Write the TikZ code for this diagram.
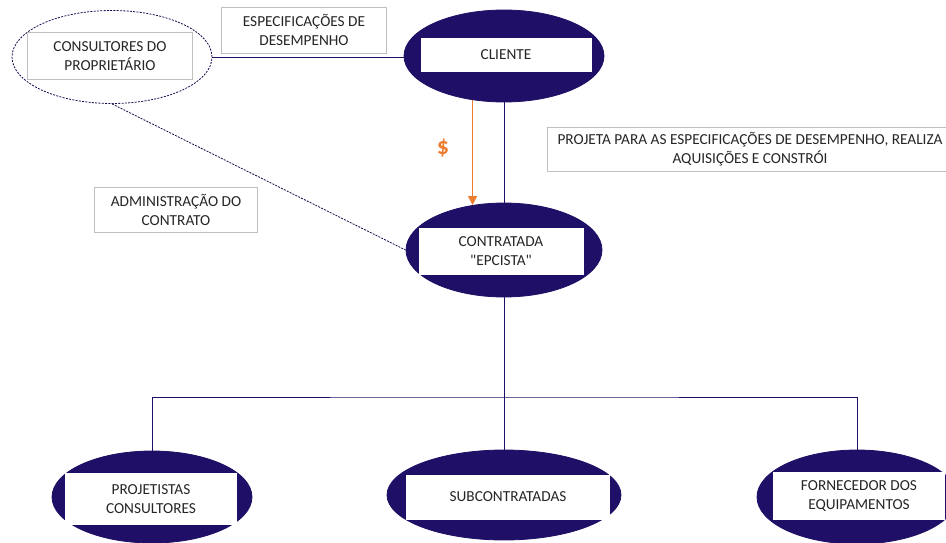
\documentclass[tikz,border=0pt]{standalone}
\usepackage{fontspec}
\setmainfont{Carlito}[Ligatures=TeXOff]
\usetikzlibrary{shapes.geometric,backgrounds,arrows.meta}
\definecolor{inknavy}{RGB}{31,15,102}
\definecolor{payorange}{RGB}{237,125,49}
\definecolor{boxgray}{RGB}{191,191,191}
\definecolor{inktext}{RGB}{38,38,38}
\begin{document}
\begin{tikzpicture}[x=1pt,y=-1pt,
  party/.style={ellipse, fill=inknavy, draw=inknavy, line width=0.8pt, inner sep=0pt},
  tag/.style={fill=white, draw=none, align=center, text=inktext,
    font=\fontsize{15.3}{18.5}\selectfont, inner sep=0pt},
  note/.style={tag, draw=boxgray, line width=0.7pt},
  link/.style={draw=inknavy, line width=0.9pt},
  advice/.style={draw=inknavy!70!black, line width=0.8pt, dash pattern=on 2pt off 1.2pt},
  pay/.style={draw=payorange, line width=1pt, -{Triangle[width=9pt,length=9pt]}, payorange}
]
\clip (0,0) rectangle (946,543);

% owner's consultants (dashed)
\node[ellipse, draw=inknavy!80!black, line width=0.8pt, dash pattern=on 2pt off 1.3pt,
  minimum width=200pt, minimum height=93pt, inner sep=0pt] (owner-oval) at (112,57) {};
\node[note, minimum width=165pt, minimum height=47pt] (owner) at (110,56)
  {CONSULTORES DO\\PROPRIETÁRIO};

% client
\node[party, minimum width=200pt, minimum height=92pt] (cliente-oval) at (504,56) {};
\node[tag, minimum width=171pt, minimum height=34pt] (cliente) at (506,55) {CLIENTE};

% EPC contractor
\node[party, minimum width=196pt, minimum height=94pt] (contratada-oval) at (504,250) {};
\node[tag, minimum width=165pt, minimum height=47pt] (contratada) at (501,251)
  {CONTRATADA\\"EPCISTA"};

% lower tier
\node[party, minimum width=200pt, minimum height=92pt] (proj-oval) at (152,497) {};
\node[tag, minimum width=172pt, minimum height=52pt] (proj) at (151,499)
  {PROJETISTAS\\CONSULTORES};
\node[party, minimum width=234pt, minimum height=90pt] (sub-oval) at (504,495) {};
\node[tag, minimum width=204pt, minimum height=45pt] (sub) at (508,497) {SUBCONTRATADAS};
\node[party, minimum width=200pt, minimum height=94pt] (forn-oval) at (857,497) {};
\node[tag, minimum width=172pt, minimum height=48pt] (forn) at (859,496)
  {FORNECEDOR DOS\\EQUIPAMENTOS};

% annotation boxes
\node[note, minimum width=165pt, minimum height=46pt] (espec) at (304,30)
  {ESPECIFICAÇÕES DE\\DESEMPENHO};
\node[note, minimum width=163pt, minimum height=45pt] (admin) at (176,210)
  {ADMINISTRAÇÃO DO\\CONTRATO};
\node[note, minimum width=406pt, minimum height=44pt] (projeta) at (750,149)
  {PROJETA PARA AS ESPECIFICAÇÕES DE DESEMPENHO, REALIZA\\AQUISIÇÕES E CONSTRÓI};

\node[text=payorange, font=\fontsize{24}{24}\selectfont\bfseries] (dollar) at (443,148) {\$};

\coordinate (bar) at (504,397);

\begin{pgfonlayer}{background}
  \fill[white] (0,0) rectangle (946,543);
  \draw[link] (owner-oval.east) -- (owner-oval.east -| cliente-oval.center);
  \draw[link] (cliente-oval.center) -- (contratada-oval.center);
  \draw[advice] (owner-oval.south) -- (contratada-oval.west);
  \draw[link] (contratada-oval.center) -- (sub-oval.center);
  \draw[link] (proj-oval.center) |- (bar) -| (forn-oval.center);
  \draw[pay] (cliente-oval.center -| contratada-oval.125.8) -- (contratada-oval.125.8);
\end{pgfonlayer}
\end{tikzpicture}
\end{document}
